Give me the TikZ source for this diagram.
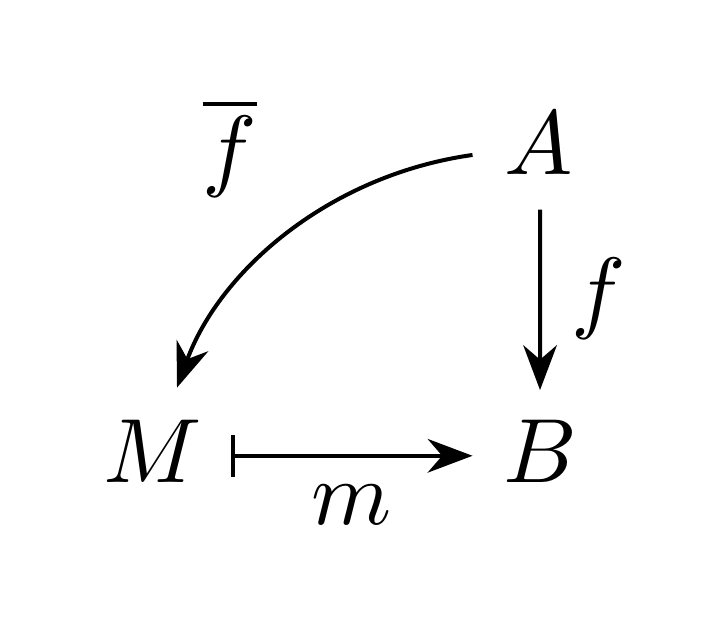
\documentclass[tikz,border=0pt]{standalone}
\usetikzlibrary{arrows.meta}
\begin{document}
\begin{tikzpicture}[x=0.125pt,y=-0.125pt,
  obj/.style={inner sep=0pt,anchor=base,scale=1.14},
  arr/.style={line width=0.5pt,-{Stealth[length=5.6pt,width=4.2pt,inset=1.8pt]}},
  maps/.style={line width=0.5pt,{Bar[width=5.2pt,line width=0.5pt]}-{Stealth[length=5.6pt,width=4.2pt,inset=1.8pt]}}]
\useasboundingbox (0,0) rectangle (718,643);
\node[obj] (A) at (538.5,175) {$A$};
\node[obj] (B) at (540,483) {$B$};
\node[obj] (M) at (153,483) {$M$};
\node[obj] (fbar) at (230,180) {$\overline{f}$};
\node[obj] (f) at (599,322) {$f$};
\node[obj] (m) at (352,525) {$m$};
\draw[arr] ([xshift=0.2pt,yshift=-4.1pt]A.south) -- ([yshift=3.6pt]B.north);
\draw[maps] ([xshift=3.4pt,yshift=3.4pt]M.base east) -- ([xshift=-3.6pt,yshift=3.4pt]B.base west);
\draw[arr] ([xshift=-3.75pt,yshift=2.5pt]A.base west) .. controls (330,175) and (220,270) .. ([xshift=3pt,yshift=3.9pt]M.north);
\end{tikzpicture}
\end{document}
